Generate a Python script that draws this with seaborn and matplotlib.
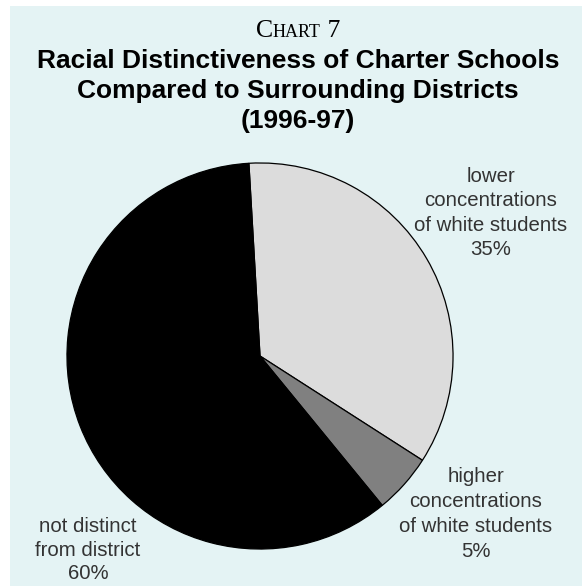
import matplotlib
matplotlib.use("Agg")
import matplotlib.pyplot as plt
from matplotlib.patches import Rectangle
import seaborn as sns

# ---- data ----
categories = ["lower concentrations of white students",
              "higher concentrations of white students",
              "not distinct from district"]
shares = [35, 5, 60]
pct_labels = ["35%", "5%", "60%"]
label_lines = [["lower", "concentrations", "of white students", "35%"],
               ["higher", "concentrations", "of white students", "5%"],
               ["not distinct", "from district", "60%"]]
colors = ["#dcdcdc", "#808080", "#000000"]
title_lines = ["Racial Distinctiveness of Charter Schools",
               "Compared to Surrounding Districts",
               "(1996-97)"]

sns.set_style("white")
plt.rcParams['font.family'] = ['Liberation Sans', 'DejaVu Sans']

W, H = 582, 586
fig = plt.figure(figsize=(W / 100, H / 100), dpi=100, facecolor="white")
fig.patches.append(Rectangle((10 / W, 0), 1 - 10 / W, 1 - 6 / H,
                             transform=fig.transFigure, facecolor="#e4f3f4",
                             edgecolor="none", zorder=-10))

cx, cy, r = 260, 356, 194
ax = fig.add_axes([(cx - r) / W, (H - cy - r) / H, 2 * r / W, 2 * r / H])
ax.set_zorder(5)
ax.set_facecolor("none")
ax.pie(shares, colors=colors, startangle=93.3, counterclock=False,
       wedgeprops=dict(edgecolor="black", linewidth=0.9), radius=1.0)
ax.set_xlim(-1.005, 1.005)
ax.set_ylim(-1.005, 1.005)
ax.set_aspect("equal")
ax.axis("off")


def ptext(x, y, s, **kw):
    return fig.text(x / W, 1 - y / H, s, ha=kw.pop("ha", "center"),
                    va=kw.pop("va", "baseline"), **kw)


# title
title_base = [68, 98, 128]
for t, yb in zip(title_lines, title_base):
    ptext(298, yb, t, fontsize=19, fontweight="bold", color="black")

# small caps "CHART 7"
fig.canvas.draw()
renderer = fig.canvas.get_renderer()
parts = [("C", 18.5), ("HART", 13), (" 7", 18.5)]
widths = []
for s, fs in parts:
    t = fig.text(0, 0, s, fontsize=fs, family="Liberation Serif")
    widths.append(t.get_window_extent(renderer).width)
    t.remove()
x0 = 298 - sum(widths) / 2
for (s, fs), w in zip(parts, widths):
    fig.text(x0 / W, 1 - 37 / H, s, fontsize=fs, family="Liberation Serif",
             ha="left", va="baseline", color="black")
    x0 += w

# slice labels
label_x = [491, 476, 88]
label_base = [[182, 206.5, 231, 255],
              [482, 507, 532, 557],
              [532, 555.5, 579]]
for lx, bases, lines in zip(label_x, label_base, label_lines):
    for yb, line in zip(bases, lines):
        ptext(lx, yb, line, fontsize=14.7, color="#333333")

fig.savefig("out.png", dpi=100, facecolor="white")
